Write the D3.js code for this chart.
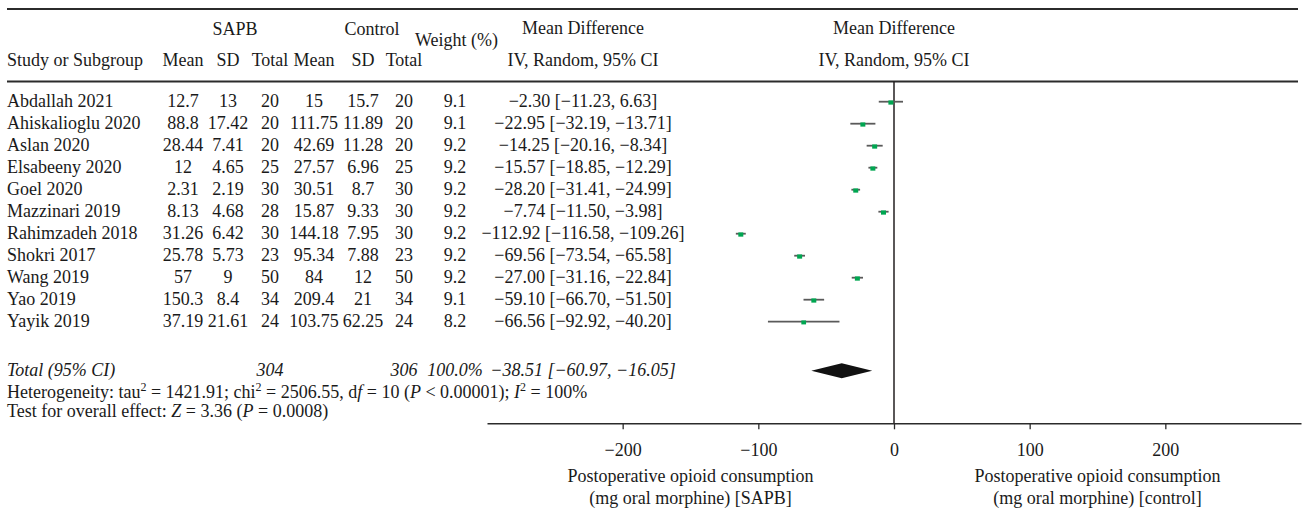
<!DOCTYPE html>
<html>
<head>
<meta charset="utf-8">
<script src="https://cdn.jsdelivr.net/npm/d3@7"></script>
<style>
  body { margin: 0; background: #fff; }
  svg { display: block; }
  text { font-family: "Liberation Serif", "Times New Roman", serif; font-size: 18px; fill: #1a1a1a; }
  .it { font-style: italic; }
</style>
</head>
<body>
<svg id="chart"></svg>
<script>
var width = 1304,
height = 516;

// data
var studies = ["Abdallah 2021", "Ahiskalioglu 2020", "Aslan 2020", "Elsabeeny 2020", "Goel 2020",
  "Mazzinari 2019", "Rahimzadeh 2018", "Shokri 2017", "Wang 2019", "Yao 2019", "Yayik 2019"];
var sapbMean = [12.7, 88.8, 28.44, 12, 2.31, 8.13, 31.26, 25.78, 57, 150.3, 37.19];
var sapbSD = [13, 17.42, 7.41, 4.65, 2.19, 4.68, 6.42, 5.73, 9, 8.4, 21.61];
var sapbN = [20, 20, 20, 25, 30, 28, 30, 23, 50, 34, 24];
var ctrlMean = [15, 111.75, 42.69, 27.57, 30.51, 15.87, 144.18, 95.34, 84, 209.4, 103.75];
var ctrlSD = [15.7, 11.89, 11.28, 6.96, 8.7, 9.33, 7.95, 7.88, 12, 21, 62.25];
var ctrlN = [20, 20, 20, 25, 30, 30, 30, 23, 50, 34, 24];
var weights = [9.1, 9.1, 9.2, 9.2, 9.2, 9.2, 9.2, 9.2, 9.2, 9.1, 8.2];
var md = [-2.30, -22.95, -14.25, -15.57, -28.20, -7.74, -112.92, -69.56, -27.00, -59.10, -66.56];
var ciLow = [-11.23, -32.19, -20.16, -18.85, -31.41, -11.50, -116.58, -73.54, -31.16, -66.70, -92.92];
var ciHigh = [6.63, -13.71, -8.34, -12.29, -24.99, -3.98, -109.26, -65.58, -22.84, -51.50, -40.20];
var total = { sapbN: 304, ctrlN: 306, weight: 100.0, md: -38.51, lo: -60.97, hi: -16.05 };
var tickValues = [-200, -100, 0, 100, 200];
var axisLabelLeft = ["Postoperative opioid consumption", "(mg oral morphine) [SAPB]"];
var axisLabelRight = ["Postoperative opioid consumption", "(mg oral morphine) [control]"];

var minus = function (v) { return v < 0 ? "\u2212" + Math.abs(v).toFixed(2) : v.toFixed(2); };
var ciText = function (m, l, h) { return minus(m) + " [" + minus(l) + ", " + minus(h) + "]"; };

var svg = d3.select("#chart")
.attr("width", width)
.attr("height", height);

// column x positions (centres)
var col = { name: 7, sMean: 183, sSD: 228, sN: 270, cMean: 314, cSD: 363, cN: 404, w: 455, ci: 583 };

var x = d3.scaleLinear()
.domain([-300, 300])
.range([487, 1301]);

var y = d3.scaleLinear()
.domain([0, 10])
.range([101.7, 321.7]);

var yTotal = 370.7,
yAxis = 423.3,
yHeadTop = 9,
yHeadLine = 81.5,
base = 5.5;

// horizontal rules
svg.append("line")
.attr("x1", 7).attr("x2", 1298)
.attr("y1", yHeadTop).attr("y2", yHeadTop)
.style("stroke", "#2b2b2b").style("stroke-width", 1.8);

svg.append("line")
.attr("x1", 7).attr("x2", 1298)
.attr("y1", yHeadLine).attr("y2", yHeadLine)
.style("stroke", "#2b2b2b").style("stroke-width", 1.8);

// headers
function label(tx, ty, s, anchor, cls) {
  return svg.append("text")
  .attr("x", tx)
  .attr("y", ty)
  .attr("text-anchor", anchor || "middle")
  .attr("class", cls || null)
  .text(s);
}

label(235, 35, "SAPB");
label(372, 35, "Control");
label(456.5, 46, "Weight (%)");
label(col.ci, 34, "Mean Difference");
label(x(0), 34, "Mean Difference");
label(col.ci, 66, "IV, Random, 95% CI");
label(x(0), 66, "IV, Random, 95% CI");

label(col.name, 66, "Study or Subgroup", "start");
label(col.sMean, 66, "Mean");
label(col.sSD, 66, "SD");
label(col.sN, 66, "Total");
label(col.cMean, 66, "Mean");
label(col.cSD, 66, "SD");
label(col.cN, 66, "Total");

// study rows
var rows = svg.selectAll("g.row")
.data(studies)
.enter().append("g")
.attr("class", "row")
.attr("transform", function (d, i) { return "translate(0," + (y(i) + base) + ")"; });

rows.append("text").attr("x", col.name).text(function (d) { return d; });
rows.append("text").attr("x", col.sMean).attr("text-anchor", "middle").text(function (d, i) { return String(sapbMean[i]); });
rows.append("text").attr("x", col.sSD).attr("text-anchor", "middle").text(function (d, i) { return String(sapbSD[i]); });
rows.append("text").attr("x", col.sN).attr("text-anchor", "middle").text(function (d, i) { return sapbN[i]; });
rows.append("text").attr("x", col.cMean).attr("text-anchor", "middle").text(function (d, i) { return String(ctrlMean[i]); });
rows.append("text").attr("x", col.cSD).attr("text-anchor", "middle").text(function (d, i) { return String(ctrlSD[i]); });
rows.append("text").attr("x", col.cN).attr("text-anchor", "middle").text(function (d, i) { return ctrlN[i]; });
rows.append("text").attr("x", col.w).attr("text-anchor", "middle").text(function (d, i) { return weights[i].toFixed(1); });
rows.append("text").attr("x", col.ci).attr("text-anchor", "middle").text(function (d, i) { return ciText(md[i], ciLow[i], ciHigh[i]); });

// total row
var tr = svg.append("g").attr("transform", "translate(0," + (yTotal + base) + ")");
tr.append("text").attr("x", col.name).attr("class", "it").text("Total (95% CI)");
tr.append("text").attr("x", col.sN).attr("text-anchor", "middle").attr("class", "it").text(total.sapbN);
tr.append("text").attr("x", col.cN).attr("text-anchor", "middle").attr("class", "it").text(total.ctrlN);
tr.append("text").attr("x", col.w).attr("text-anchor", "middle").attr("class", "it").text(total.weight.toFixed(1) + "%");
tr.append("text").attr("x", col.ci).attr("text-anchor", "middle").attr("class", "it").text(ciText(total.md, total.lo, total.hi));

// heterogeneity + overall effect
var het = svg.append("text").attr("x", col.name).attr("y", 398);
het.append("tspan").text("Heterogeneity: tau");
het.append("tspan").attr("dy", -7).style("font-size", "12px").text("2");
het.append("tspan").attr("dy", 7).text(" = 1421.91; chi");
het.append("tspan").attr("dy", -7).style("font-size", "12px").text("2");
het.append("tspan").attr("dy", 7).text(" = 2506.55, d");
het.append("tspan").attr("class", "it").text("f");
het.append("tspan").text(" = 10 (");
het.append("tspan").attr("class", "it").text("P");
het.append("tspan").text(" < 0.00001); ");
het.append("tspan").attr("class", "it").text("I");
het.append("tspan").attr("dy", -7).style("font-size", "12px").text("2");
het.append("tspan").attr("dy", 7).text(" = 100%");

var ovr = svg.append("text").attr("x", col.name).attr("y", 416.5);
ovr.append("tspan").text("Test for overall effect: ");
ovr.append("tspan").attr("class", "it").text("Z");
ovr.append("tspan").text(" = 3.36 (");
ovr.append("tspan").attr("class", "it").text("P");
ovr.append("tspan").text(" = 0.0008)");

// zero line
svg.append("line")
.attr("x1", x(0)).attr("x2", x(0))
.attr("y1", yHeadLine).attr("y2", yAxis)
.style("stroke", "#231f20").style("stroke-width", 1.5);

// CI whiskers and squares
var g = svg.append("g");
g.selectAll("line.ci")
.data(md)
.enter().append("line")
.attr("class", "ci")
.attr("x1", function (d, i) { return x(ciLow[i]); })
.attr("x2", function (d, i) { return x(ciHigh[i]); })
.attr("y1", function (d, i) { return y(i); })
.attr("y2", function (d, i) { return y(i); })
.style("stroke", "#5a5a5a")
.style("stroke-width", 1.8);

var sq = d3.scaleSqrt().domain([0, 9.2]).range([0, 5]);
g.selectAll("rect.pt")
.data(md)
.enter().append("rect")
.attr("class", "pt")
.attr("x", function (d, i) { return x(d) - sq(weights[i]) / 2; })
.attr("y", function (d, i) { return y(i) - 1.3; })
.attr("width", function (d, i) { return sq(weights[i]); })
.attr("height", function (d, i) { return sq(weights[i]) * 0.85; })
.style("fill", "#00a651");

// pooled diamond
svg.append("path")
.attr("d", "M" + x(total.lo) + "," + yTotal +
  "L" + x(total.md) + "," + (yTotal - 7.5) +
  "L" + x(total.hi) + "," + yTotal +
  "L" + x(total.md) + "," + (yTotal + 7.5) + "Z")
.style("fill", "#111");

// axis
var axis = svg.append("g")
.attr("transform", "translate(0," + yAxis + ")")
.call(d3.axisBottom(x).tickValues(tickValues).tickSize(6).tickSizeOuter(0).tickPadding(14));

axis.select(".domain").style("stroke", "#2b2b2b").style("stroke-width", 1.5);
axis.selectAll(".tick line").style("stroke", "#2b2b2b").style("stroke-width", 1.3);
axis.selectAll(".tick text")
.style("font-family", "Liberation Serif, serif")
.style("font-size", "18px")
.style("fill", "#1a1a1a");

// axis captions
[[axisLabelLeft, -150], [axisLabelRight, 150]].forEach(function (p) {
  p[0].forEach(function (s, j) {
    label(x(p[1]), 481.5 + j * 22.5, s);
  });
});
</script>
</body>
</html>
